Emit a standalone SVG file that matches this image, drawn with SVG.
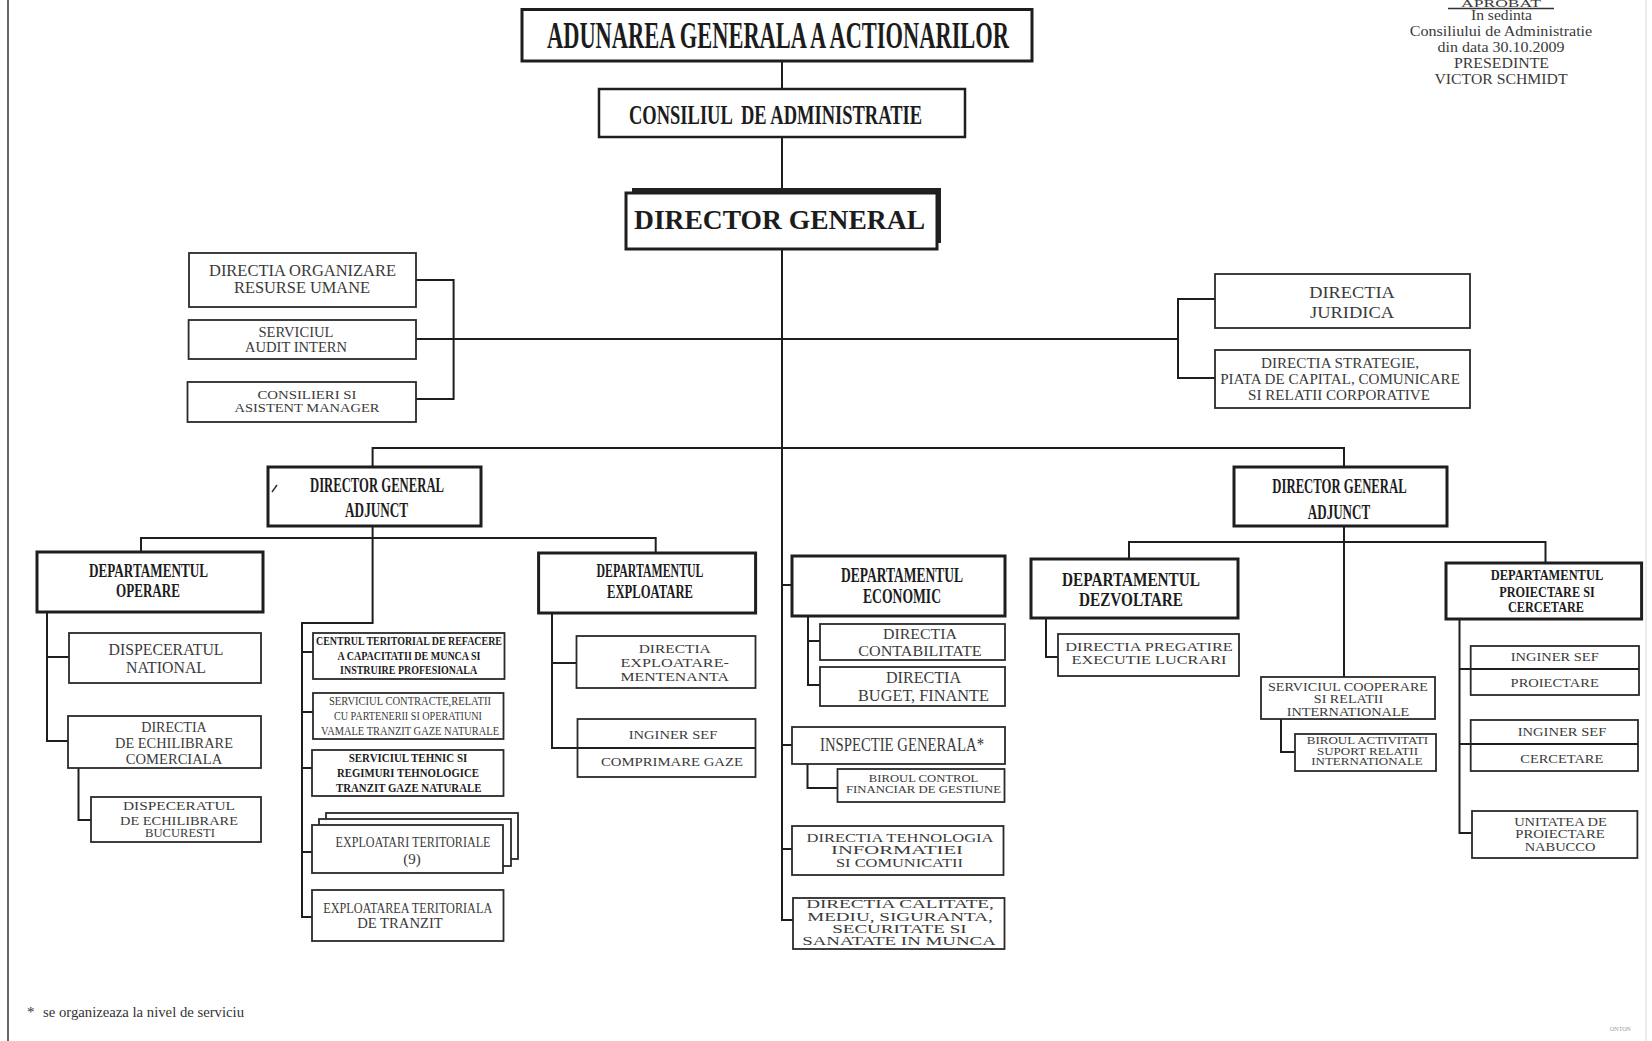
<svg xmlns="http://www.w3.org/2000/svg" width="1652" height="1041" viewBox="0 0 1652 1041">
<style>
.bg{fill:#fff}
.b{fill:#fff;stroke:#1e1e1e;stroke-width:3}
.t{fill:#fff;stroke:#2a2a2a;stroke-width:1.8}
.c{fill:none;stroke:#1e1e1e;stroke-width:2}
.h{font-family:"Liberation Serif",serif;font-weight:bold;fill:#1c1c1c;text-anchor:middle}
.r{font-family:"Liberation Serif",serif;fill:#3a3a3a;text-anchor:middle}
.s{font-family:"Liberation Serif",serif;fill:#333;text-anchor:start}
</style>
<rect class="bg" x="0" y="0" width="1652" height="1041"/>
<line x1="8" y1="0" x2="8" y2="1041" stroke="#666" stroke-width="2"/>
<line x1="1646" y1="0" x2="1646" y2="1041" stroke="#e6e6e6" stroke-width="1.5"/>

<g id="connectors">
<path class="c" d="M782,61 V89"/>
<path class="c" d="M782,137 V193"/>
<path class="c" d="M782,249 V920 H793"/>
<path class="c" d="M416,280 H453.6 V399 H416"/>
<path class="c" d="M416,339 H1178"/>
<path class="c" d="M1215,299 H1178 V378 H1215"/>
<path class="c" d="M372.6,467 V448 H1344 V467"/>
<path class="c" d="M372.6,526 V623 H302 V917 H312"/>
<path class="c" d="M141,552 V538 H655.7 V553"/>
<path class="c" d="M302,652 H313 M302,712 H313 M302,768 H312 M302,852 H312"/>
<path class="c" d="M47,612 V741 H68 M47,657 H69"/>
<path class="c" d="M78.5,768 V820 H91"/>
<path class="c" d="M552,613 V748 H577.5 M552,663 H576.5"/>
<path class="c" d="M782,585 H792 M782,745 H792 M782,849 H792"/>
<path class="c" d="M808,616 V685 H820 M808,641 H820"/>
<path class="c" d="M807.5,764 V788 H837.5"/>
<path class="c" d="M1344,526 V677"/>
<path class="c" d="M1129,559 V542 H1545.5 V563"/>
<path class="c" d="M1046,618 V657 H1058"/>
<path class="c" d="M1281,719 V752 H1295"/>
<path class="c" d="M1459.5,619 V833 H1472 M1459.5,669 H1470.7 M1459.5,744 H1470.7"/>
</g>

<g id="adunarea">
<rect class="b" x="522" y="9.5" width="510" height="51.5"/>
<text class="h" x="778" y="48" font-size="37" textLength="462" lengthAdjust="spacingAndGlyphs">ADUNAREA GENERALA A ACTIONARILOR</text>
</g>
<g id="consiliul">
<rect class="b" x="599" y="89" width="366" height="48" style="stroke-width:2.5"/>
<text class="h" x="775.5" y="124" font-size="28" textLength="293" lengthAdjust="spacingAndGlyphs" xml:space="preserve">CONSILIUL  DE ADMINISTRATIE</text>
</g>
<g id="director-general">
<rect x="632" y="188" width="309" height="55" fill="#222"/>
<rect class="b" x="626" y="193" width="311" height="56"/>
<text class="h" x="779.5" y="229" font-size="28" textLength="291" lengthAdjust="spacingAndGlyphs">DIRECTOR GENERAL</text>
</g>

<g id="dir-organizare">
<rect class="t" x="189" y="253" width="227" height="54"/>
<text class="r" x="302.5" y="276" font-size="16" textLength="187" lengthAdjust="spacingAndGlyphs">DIRECTIA ORGANIZARE</text>
<text class="r" x="302" y="293" font-size="16" textLength="136" lengthAdjust="spacingAndGlyphs">RESURSE UMANE</text>
</g>
<g id="audit-intern">
<rect class="t" x="188.6" y="320" width="227.4" height="39"/>
<text class="r" x="296" y="337" font-size="15" textLength="75" lengthAdjust="spacingAndGlyphs">SERVICIUL</text>
<text class="r" x="296" y="352" font-size="15" textLength="102" lengthAdjust="spacingAndGlyphs">AUDIT INTERN</text>
</g>
<g id="consilieri">
<rect class="t" x="187.5" y="382" width="228.5" height="40"/>
<text class="r" x="307" y="399" font-size="13" textLength="99" lengthAdjust="spacingAndGlyphs">CONSILIERI SI</text>
<text class="r" x="307" y="412" font-size="13" textLength="145" lengthAdjust="spacingAndGlyphs">ASISTENT MANAGER</text>
</g>
<g id="juridica">
<rect class="t" x="1215" y="274" width="255" height="54"/>
<text class="r" x="1352" y="298" font-size="17.5" textLength="85.5" lengthAdjust="spacingAndGlyphs">DIRECTIA</text>
<text class="r" x="1352" y="318" font-size="17.5" textLength="84" lengthAdjust="spacingAndGlyphs">JURIDICA</text>
</g>
<g id="strategie">
<rect class="t" x="1215" y="350" width="255" height="58"/>
<text class="r" x="1340" y="368" font-size="14" textLength="158" lengthAdjust="spacingAndGlyphs">DIRECTIA STRATEGIE,</text>
<text class="r" x="1340" y="384" font-size="14" textLength="239.7" lengthAdjust="spacingAndGlyphs">PIATA DE CAPITAL, COMUNICARE</text>
<text class="r" x="1339" y="400" font-size="14" textLength="182" lengthAdjust="spacingAndGlyphs">SI RELATII CORPORATIVE</text>
</g>

<g id="aprobat">
<text class="r" x="1501" y="7" font-size="9.5" textLength="80" lengthAdjust="spacingAndGlyphs">APROBAT</text>
<line x1="1448" y1="8.5" x2="1554" y2="8.5" stroke="#333" stroke-width="1.5"/>
<text class="r" x="1501.5" y="20" font-size="14" textLength="61" lengthAdjust="spacingAndGlyphs">In sedinta</text>
<text class="r" x="1501" y="36" font-size="14" textLength="182.5" lengthAdjust="spacingAndGlyphs">Consiliului de Administratie</text>
<text class="r" x="1501" y="52" font-size="14" textLength="127" lengthAdjust="spacingAndGlyphs">din data 30.10.2009</text>
<text class="r" x="1501.5" y="68" font-size="14" textLength="95" lengthAdjust="spacingAndGlyphs">PRESEDINTE</text>
<text class="r" x="1501" y="84" font-size="14" textLength="133" lengthAdjust="spacingAndGlyphs">VICTOR SCHMIDT</text>
</g>

<g id="dga-left">
<rect class="b" x="268" y="467" width="213" height="59"/>
<path d="M272,492 L277,485" stroke="#333" stroke-width="1.5"/>
<text class="h" x="377" y="492" font-size="22" textLength="134" lengthAdjust="spacingAndGlyphs">DIRECTOR GENERAL</text>
<text class="h" x="376.6" y="517" font-size="22" textLength="63" lengthAdjust="spacingAndGlyphs">ADJUNCT</text>
</g>
<g id="dga-right">
<rect class="b" x="1234" y="467" width="213" height="59"/>
<text class="h" x="1339.5" y="493" font-size="22" textLength="134.3" lengthAdjust="spacingAndGlyphs">DIRECTOR GENERAL</text>
<text class="h" x="1339" y="519" font-size="22" textLength="62.4" lengthAdjust="spacingAndGlyphs">ADJUNCT</text>
</g>

<g id="dep-operare">
<rect class="b" x="37" y="552" width="226" height="60"/>
<text class="h" x="148.5" y="577" font-size="18" textLength="119" lengthAdjust="spacingAndGlyphs">DEPARTAMENTUL</text>
<text class="h" x="148" y="597" font-size="18" textLength="64" lengthAdjust="spacingAndGlyphs">OPERARE</text>
</g>
<g id="disp-national">
<rect class="t" x="69" y="633" width="192" height="50"/>
<text class="r" x="166" y="655" font-size="17" textLength="115" lengthAdjust="spacingAndGlyphs">DISPECERATUL</text>
<text class="r" x="166" y="673" font-size="17" textLength="80" lengthAdjust="spacingAndGlyphs">NATIONAL</text>
</g>
<g id="dir-echilibrare">
<rect class="t" x="68" y="716" width="193" height="52"/>
<text class="r" x="174" y="732" font-size="14" textLength="65.5" lengthAdjust="spacingAndGlyphs">DIRECTIA</text>
<text class="r" x="174" y="748" font-size="14" textLength="118" lengthAdjust="spacingAndGlyphs">DE ECHILIBRARE</text>
<text class="r" x="174" y="764" font-size="14" textLength="96.4" lengthAdjust="spacingAndGlyphs">COMERCIALA</text>
</g>
<g id="disp-bucuresti">
<rect class="t" x="91" y="797" width="170" height="45"/>
<text class="r" x="179" y="810" font-size="13" textLength="112" lengthAdjust="spacingAndGlyphs">DISPECERATUL</text>
<text class="r" x="179" y="825" font-size="13" textLength="118" lengthAdjust="spacingAndGlyphs">DE ECHILIBRARE</text>
<text class="r" x="180" y="837" font-size="13" textLength="70" lengthAdjust="spacingAndGlyphs">BUCURESTI</text>
</g>

<g id="centrul-teritorial">
<rect class="t" x="313" y="633" width="191.5" height="46"/>
<text class="h" x="409" y="645" font-size="12" textLength="186" lengthAdjust="spacingAndGlyphs">CENTRUL TERITORIAL DE REFACERE</text>
<text class="h" x="409" y="660" font-size="12" textLength="143" lengthAdjust="spacingAndGlyphs">A CAPACITATII DE MUNCA SI</text>
<text class="h" x="408.6" y="674" font-size="12" textLength="137" lengthAdjust="spacingAndGlyphs">INSTRUIRE PROFESIONALA</text>
</g>
<g id="serviciul-contracte">
<rect class="t" x="313" y="693" width="190.5" height="46"/>
<text class="r" x="410" y="705" font-size="12" textLength="162" lengthAdjust="spacingAndGlyphs">SERVICIUL CONTRACTE,RELATII</text>
<text class="r" x="408" y="720" font-size="12" textLength="148" lengthAdjust="spacingAndGlyphs">CU PARTENERII SI OPERATIUNI</text>
<text class="r" x="410" y="735" font-size="12" textLength="178" lengthAdjust="spacingAndGlyphs">VAMALE TRANZIT GAZE NATURALE</text>
</g>
<g id="serviciul-tehnic">
<rect class="t" x="312" y="750" width="191.5" height="46"/>
<text class="h" x="408" y="762" font-size="12" textLength="118.5" lengthAdjust="spacingAndGlyphs">SERVICIUL TEHNIC SI</text>
<text class="h" x="408" y="777" font-size="12" textLength="142" lengthAdjust="spacingAndGlyphs">REGIMURI TEHNOLOGICE</text>
<text class="h" x="408.7" y="792" font-size="12" textLength="145.5" lengthAdjust="spacingAndGlyphs">TRANZIT GAZE NATURALE</text>
</g>
<g id="exploatari-teritoriale">
<rect class="t" x="326" y="813" width="192" height="46"/>
<rect class="t" x="319" y="819" width="192" height="47"/>
<rect class="t" x="312" y="825" width="191" height="48"/>
<text class="r" x="413" y="847" font-size="15" textLength="155" lengthAdjust="spacingAndGlyphs">EXPLOATARI TERITORIALE</text>
<text class="r" x="412" y="864" font-size="15">(9)</text>
</g>
<g id="exploatarea-tranzit">
<rect class="t" x="312" y="890" width="191.5" height="51"/>
<text class="r" x="407.7" y="913" font-size="15" textLength="169" lengthAdjust="spacingAndGlyphs">EXPLOATAREA TERITORIALA</text>
<text class="r" x="400" y="928" font-size="15" textLength="85.7" lengthAdjust="spacingAndGlyphs">DE TRANZIT</text>
</g>

<g id="dep-exploatare">
<rect class="b" x="538.6" y="553" width="217" height="60"/>
<text class="h" x="650" y="577" font-size="18" textLength="107" lengthAdjust="spacingAndGlyphs">DEPARTAMENTUL</text>
<text class="h" x="650" y="598" font-size="18" textLength="86" lengthAdjust="spacingAndGlyphs">EXPLOATARE</text>
</g>
<g id="dir-exploatare-mentenanta">
<rect class="t" x="576.5" y="636" width="179" height="52"/>
<text class="r" x="674.7" y="653" font-size="13" textLength="72" lengthAdjust="spacingAndGlyphs">DIRECTIA</text>
<text class="r" x="674.7" y="667" font-size="13" textLength="108.5" lengthAdjust="spacingAndGlyphs">EXPLOATARE-</text>
<text class="r" x="674.7" y="681" font-size="13" textLength="108.5" lengthAdjust="spacingAndGlyphs">MENTENANTA</text>
</g>
<g id="inginer-sef-comprimare">
<rect class="t" x="577.5" y="719" width="178" height="58"/>
<path class="c" d="M577.5,748 H755.5"/>
<text class="r" x="673" y="739" font-size="13" textLength="88.5" lengthAdjust="spacingAndGlyphs">INGINER SEF</text>
<text class="r" x="672" y="766" font-size="13" textLength="142" lengthAdjust="spacingAndGlyphs">COMPRIMARE GAZE</text>
</g>

<g id="dep-economic">
<rect class="b" x="792" y="556" width="213" height="60"/>
<text class="h" x="902" y="582" font-size="20" textLength="122" lengthAdjust="spacingAndGlyphs">DEPARTAMENTUL</text>
<text class="h" x="902" y="603" font-size="20" textLength="78" lengthAdjust="spacingAndGlyphs">ECONOMIC</text>
</g>
<g id="dir-contabilitate">
<rect class="t" x="820" y="624" width="185" height="36"/>
<text class="r" x="920" y="639" font-size="15" textLength="74" lengthAdjust="spacingAndGlyphs">DIRECTIA</text>
<text class="r" x="920" y="656" font-size="15" textLength="123.4" lengthAdjust="spacingAndGlyphs">CONTABILITATE</text>
</g>
<g id="dir-buget">
<rect class="t" x="820" y="667" width="185" height="39"/>
<text class="r" x="923.5" y="683" font-size="16" textLength="75" lengthAdjust="spacingAndGlyphs">DIRECTIA</text>
<text class="r" x="923.5" y="701" font-size="16" textLength="131" lengthAdjust="spacingAndGlyphs">BUGET, FINANTE</text>
</g>
<g id="inspectie-generala">
<rect class="t" x="792" y="727" width="213" height="37"/>
<text class="r" x="902" y="751" font-size="19" textLength="164" lengthAdjust="spacingAndGlyphs">INSPECTIE GENERALA*</text>
</g>
<g id="biroul-control">
<rect class="t" x="837.5" y="769" width="167" height="33"/>
<text class="r" x="923.6" y="782" font-size="11" textLength="109.5" lengthAdjust="spacingAndGlyphs">BIROUL CONTROL</text>
<text class="r" x="923.5" y="793" font-size="11" textLength="155" lengthAdjust="spacingAndGlyphs">FINANCIAR DE GESTIUNE</text>
</g>
<g id="dir-tehnologia">
<rect class="t" x="792" y="826" width="211.5" height="49"/>
<text class="r" x="900" y="842" font-size="13" textLength="187" lengthAdjust="spacingAndGlyphs">DIRECTIA TEHNOLOGIA</text>
<text class="r" x="897" y="854" font-size="13" textLength="132" lengthAdjust="spacingAndGlyphs">INFORMATIEI</text>
<text class="r" x="899.5" y="867" font-size="13" textLength="127" lengthAdjust="spacingAndGlyphs">SI COMUNICATII</text>
</g>
<g id="dir-calitate">
<rect class="t" x="793" y="898" width="211.5" height="51"/>
<text class="r" x="900" y="908" font-size="13" textLength="187.7" lengthAdjust="spacingAndGlyphs">DIRECTIA CALITATE,</text>
<text class="r" x="900" y="921" font-size="13" textLength="185.6" lengthAdjust="spacingAndGlyphs">MEDIU, SIGURANTA,</text>
<text class="r" x="899.4" y="933" font-size="13" textLength="134.4" lengthAdjust="spacingAndGlyphs">SECURITATE SI</text>
<text class="r" x="899" y="945" font-size="13" textLength="193.6" lengthAdjust="spacingAndGlyphs">SANATATE IN MUNCA</text>
</g>

<g id="dep-dezvoltare">
<rect class="b" x="1031" y="559" width="207" height="59"/>
<text class="h" x="1131" y="586" font-size="19" textLength="138" lengthAdjust="spacingAndGlyphs">DEPARTAMENTUL</text>
<text class="h" x="1131" y="606" font-size="19" textLength="104" lengthAdjust="spacingAndGlyphs">DEZVOLTARE</text>
</g>
<g id="dir-pregatire">
<rect class="t" x="1058" y="634" width="181" height="42"/>
<text class="r" x="1149" y="651" font-size="13" textLength="167.6" lengthAdjust="spacingAndGlyphs">DIRECTIA PREGATIRE</text>
<text class="r" x="1149" y="664" font-size="13" textLength="155" lengthAdjust="spacingAndGlyphs">EXECUTIE LUCRARI</text>
</g>
<g id="serviciul-cooperare">
<rect class="t" x="1261" y="677" width="174" height="42"/>
<text class="r" x="1348" y="691" font-size="13" textLength="160" lengthAdjust="spacingAndGlyphs">SERVICIUL COOPERARE</text>
<text class="r" x="1348.5" y="703" font-size="13" textLength="69.4" lengthAdjust="spacingAndGlyphs">SI RELATII</text>
<text class="r" x="1348" y="716" font-size="13" textLength="122.6" lengthAdjust="spacingAndGlyphs">INTERNATIONALE</text>
</g>
<g id="biroul-activitati">
<rect class="t" x="1295" y="734" width="141" height="37"/>
<text class="r" x="1367.5" y="744" font-size="10" textLength="121.4" lengthAdjust="spacingAndGlyphs">BIROUL ACTIVITATI</text>
<text class="r" x="1367.5" y="755" font-size="10" textLength="101" lengthAdjust="spacingAndGlyphs">SUPORT RELATII</text>
<text class="r" x="1367" y="765" font-size="10" textLength="111.4" lengthAdjust="spacingAndGlyphs">INTERNATIONALE</text>
</g>
<g id="dep-proiectare">
<rect class="b" x="1446" y="563" width="195.6" height="56"/>
<text class="h" x="1547" y="580" font-size="15" textLength="112.4" lengthAdjust="spacingAndGlyphs">DEPARTAMENTUL</text>
<text class="h" x="1547" y="597" font-size="15" textLength="95.6" lengthAdjust="spacingAndGlyphs">PROIECTARE SI</text>
<text class="h" x="1546" y="612" font-size="15" textLength="76" lengthAdjust="spacingAndGlyphs">CERCETARE</text>
</g>
<g id="inginer-sef-proiectare">
<rect class="t" x="1470.7" y="646" width="168.3" height="49"/>
<path class="c" d="M1470.7,669 H1639"/>
<text class="r" x="1554.7" y="661" font-size="13" textLength="88" lengthAdjust="spacingAndGlyphs">INGINER SEF</text>
<text class="r" x="1554.7" y="687" font-size="13" textLength="88.2" lengthAdjust="spacingAndGlyphs">PROIECTARE</text>
</g>
<g id="inginer-sef-cercetare">
<rect class="t" x="1470.7" y="720" width="167.3" height="51"/>
<path class="c" d="M1470.7,744 H1638"/>
<text class="r" x="1562" y="736" font-size="13" textLength="88.6" lengthAdjust="spacingAndGlyphs">INGINER SEF</text>
<text class="r" x="1561.8" y="763" font-size="13" textLength="83" lengthAdjust="spacingAndGlyphs">CERCETARE</text>
</g>
<g id="unitatea-nabucco">
<rect class="t" x="1472" y="811" width="165.4" height="47"/>
<text class="r" x="1560.5" y="826" font-size="13" textLength="92.7" lengthAdjust="spacingAndGlyphs">UNITATEA DE</text>
<text class="r" x="1560" y="838" font-size="13" textLength="89.4" lengthAdjust="spacingAndGlyphs">PROIECTARE</text>
<text class="r" x="1560" y="851" font-size="13" textLength="70.7" lengthAdjust="spacingAndGlyphs">NABUCCO</text>
</g>

<g id="footnote">
<text class="s" x="27" y="1017" font-size="15">*</text>
<text class="s" x="43" y="1017" font-size="15" textLength="201" lengthAdjust="spacingAndGlyphs">se organizeaza la nivel de serviciu</text>
</g>
<text class="s" x="1610" y="1031" font-size="6" style="fill:#9a9a9a">ONTON</text>
</svg>
